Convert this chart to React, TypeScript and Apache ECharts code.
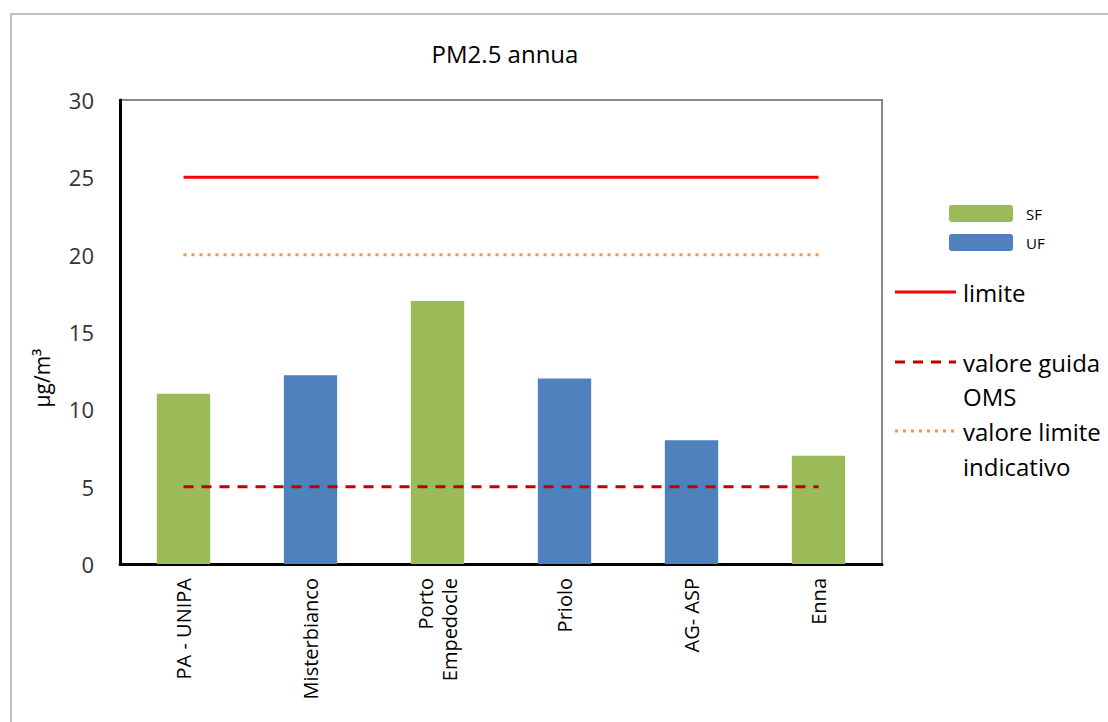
import React, { useEffect, useRef } from "react";
import * as echarts from "echarts";

const categories = ["PA - UNIPA", "Misterbianco", "Porto\nEmpedocle", "Priolo", "AG- ASP", "Enna"];
const sfValues = [11, null, 17, null, null, 7];
const ufValues = [null, 12.2, null, 12, 8, null];
const limiteValues = [25, 25, 25, 25, 25, 25];
const guidaValues = [5, 5, 5, 5, 5, 5];
const indicativoValues = [20, 20, 20, 20, 20, 20];
const yTicks = [0, 5, 10, 15, 20, 25, 30];

const FONT = "'Open Sans', sans-serif";
const GREEN = "#9BBB59";
const BLUE = "#4F81BD";
const RED = "#FF0000";
const DARKRED = "#C00000";
const ORANGE = "#F79646";

export default function App() {
  const ref = useRef<HTMLDivElement>(null);
  useEffect(() => {
    if (!ref.current) return;
    const chart = echarts.init(ref.current, null, { renderer: "svg" });
    const lineSeries = (name: string, data: number[], color: string, type: any) => ({
      name,
      type: "line",
      data,
      symbol: "none",
      lineStyle: { color, width: 3, type },
      z: 5,
    });
    const txt = (text: string, x: number, y: number, size: number) => ({
      type: "text",
      x,
      y,
      style: { text, fontFamily: FONT, fontSize: size, fill: "#000", verticalAlign: "middle" },
    });
    chart.setOption({
      animation: false,
      backgroundColor: "#fff",
      title: {
        text: "PM2.5 annua",
        left: 500,
        top: 36,
        textAlign: "center",
        textStyle: { fontFamily: FONT, fontSize: 24, fontWeight: "normal", color: "#000" },
      },
      grid: { left: 120, right: 226, top: 100, bottom: 158, show: true, borderColor: "#888", borderWidth: 2 },
      xAxis: {
        type: "category",
        data: categories,
        axisLine: { lineStyle: { color: "#000", width: 3 } },
        axisTick: { show: false },
        axisLabel: {
          rotate: 90,
          interval: 0,
          margin: 14,
          fontFamily: FONT,
          fontSize: 20,
          color: "#000",
          lineHeight: 24,
        },
      },
      yAxis: {
        type: "value",
        min: yTicks[0],
        max: yTicks[yTicks.length - 1],
        interval: 5,
        splitLine: { show: false },
        axisLine: { show: true, lineStyle: { color: "#000", width: 3 } },
        axisTick: { show: false },
        axisLabel: { fontFamily: FONT, fontSize: 22, color: "#333", margin: 26 },
      },
      series: [
        { name: "SF", type: "bar", stack: "a", data: sfValues, barWidth: "42%", itemStyle: { color: GREEN } },
        { name: "UF", type: "bar", stack: "a", data: ufValues, barWidth: "42%", itemStyle: { color: BLUE } },
        lineSeries("limite", limiteValues, RED, "solid"),
        lineSeries("valore guida OMS", guidaValues, DARKRED, [10, 8]),
        lineSeries("valore limite indicativo", indicativoValues, ORANGE, [3, 5]),
      ],
      graphic: [
        { type: "rect", shape: { x: 11, y: 14, width: 1120, height: 730 }, style: { fill: "none", stroke: "#c0c0c0", lineWidth: 2 }, silent: true },
        {
          type: "text",
          x: 42,
          y: 378,
          rotation: Math.PI / 2,
          style: { text: "µg/m³", fontFamily: FONT, fontSize: 21, fill: "#000", align: "center", verticalAlign: "middle" },
        },
        { type: "rect", shape: { x: 949, y: 205, width: 64, height: 17, r: 3 }, style: { fill: GREEN } },
        txt("SF", 1026, 214, 15),
        { type: "rect", shape: { x: 949, y: 234, width: 64, height: 17, r: 3 }, style: { fill: BLUE } },
        txt("UF", 1026, 243, 15),
        { type: "line", shape: { x1: 895, y1: 292, x2: 956, y2: 292 }, style: { stroke: RED, lineWidth: 3 } },
        txt("limite", 963, 292, 24),
        { type: "line", shape: { x1: 895, y1: 362, x2: 956, y2: 362 }, style: { stroke: DARKRED, lineWidth: 3, lineDash: [10, 8] } },
        txt("valore guida", 963, 362, 24),
        txt("OMS", 963, 396, 24),
        { type: "line", shape: { x1: 895, y1: 431, x2: 956, y2: 431 }, style: { stroke: ORANGE, lineWidth: 3, lineDash: [3, 5] } },
        txt("valore limite", 963, 431, 24),
        txt("indicativo", 963, 466, 24),
      ],
    });
    return () => chart.dispose();
  }, []);
  return (
    <div
      ref={ref}
      style={{ position: "fixed", left: 0, top: 0, width: 1108, height: 722, background: "#fff" }}
    />
  );
}
